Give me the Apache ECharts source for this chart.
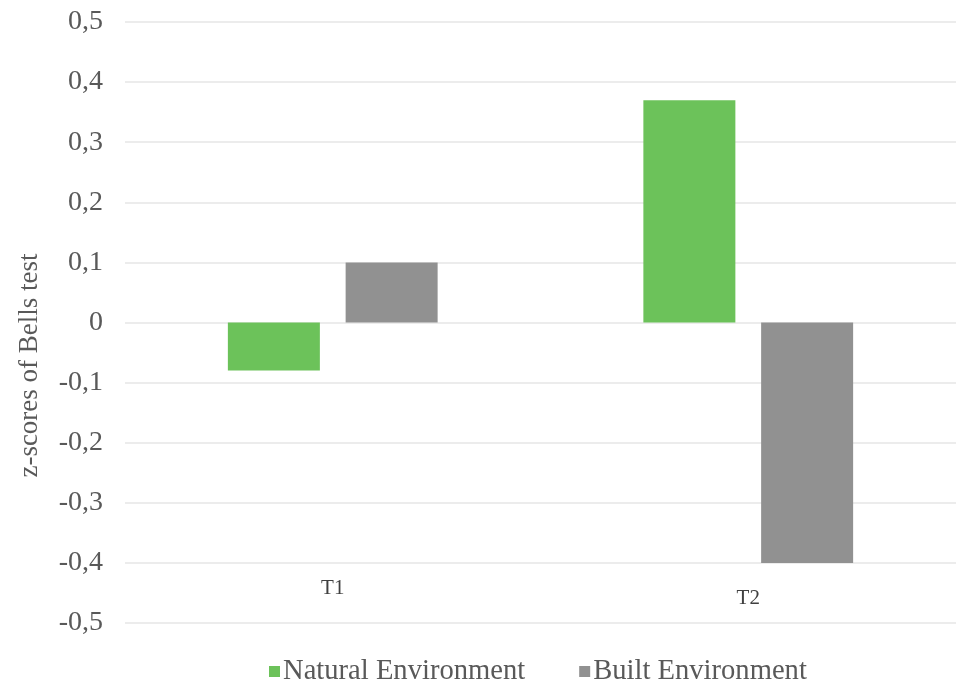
<!DOCTYPE html>
<html>
<head>
<meta charset="utf-8">
<script src="https://cdn.jsdelivr.net/npm/echarts@6/dist/echarts.min.js"></script>
<style>html,body{margin:0;padding:0;background:#fff;}#chart{width:970px;height:694px;}</style>
</head>
<body>
<div id="chart"></div>
<script>
var categories = ['T1', 'T2'];
var naturalValues = [-0.08, 0.37];
var builtValues = [0.10, -0.40];
var seriesNames = ['Natural Environment', 'Built Environment'];
var yTitle = 'z-scores of Bells test';

var chart = echarts.init(document.getElementById('chart'));
var font = '"Liberation Serif", "Times New Roman", serif';
chart.setOption({
  backgroundColor: '#ffffff',
  animation: false,
  grid: { left: 125, right: 14, top: 22, bottom: 71 },
  legend: {
    left: 264, top: 652,
    itemWidth: 11, itemHeight: 11, itemGap: 54,
    icon: 'rect',
    textStyle: { fontFamily: font, fontSize: 28.6, color: '#595959', padding: [0, 0, 0, -2] },
    data: seriesNames
  },
  xAxis: {
    type: 'category',
    data: [{ value: categories[0] }, { value: categories[1], textStyle: { padding: [10, 0, 0, 0] } }],
    position: 'bottom',
    axisLine: { show: false, onZero: false },
    axisTick: { show: false },
    axisLabel: { margin: -45, fontFamily: font, fontSize: 21, color: '#404040' }
  },
  yAxis: {
    type: 'value',
    min: -0.5, max: 0.5, interval: 0.1,
    name: yTitle,
    nameLocation: 'middle',
    nameGap: 82,
    nameTextStyle: { fontFamily: font, fontSize: 27, color: '#595959', padding: [0, 86, 0, 0] },
    axisLine: { show: false },
    axisTick: { show: false },
    splitLine: { lineStyle: { color: '#e6e6e6', width: 1.5 } },
    axisLabel: {
      margin: 22,
      fontFamily: font, fontSize: 28, color: '#595959',
      formatter: function (v) {
        var r = Math.round(v * 10) / 10;
        if (r === 0) return '0';
        return r.toFixed(1).replace('.', ',');
      }
    }
  },
  series: [
    { name: seriesNames[0], type: 'bar', data: naturalValues, barWidth: 92, barGap: '28%', itemStyle: { color: '#6cc25a' } },
    { name: seriesNames[1], type: 'bar', data: builtValues, barWidth: 92, itemStyle: { color: '#919191' } }
  ]
});
</script>
</body>
</html>
